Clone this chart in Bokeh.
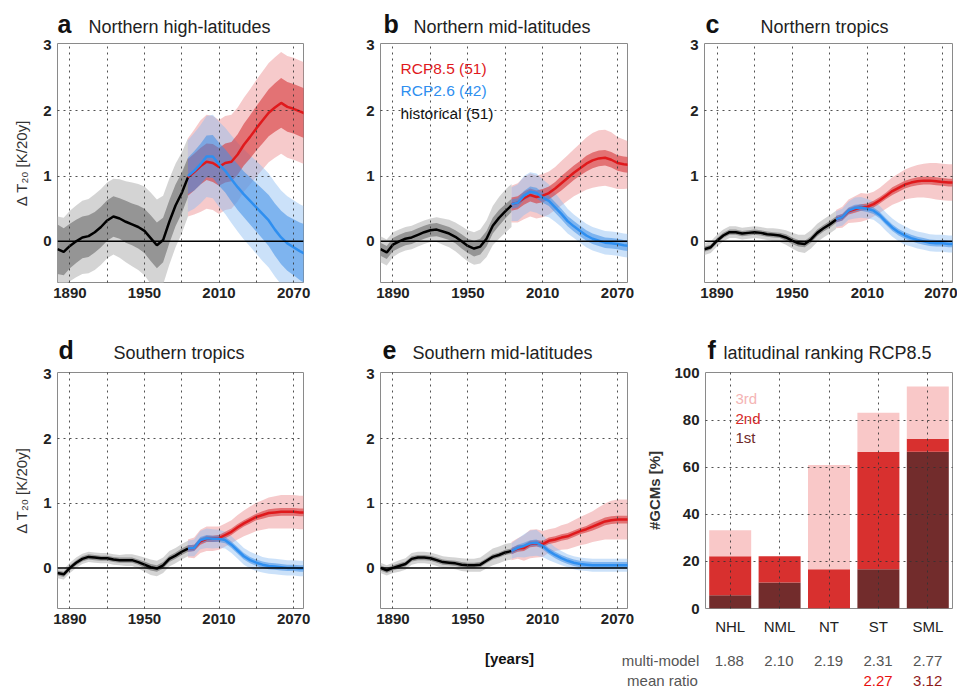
from bokeh.plotting import figure
from bokeh.layouts import row, column
from bokeh.models import Range1d, FactorRange, FixedTicker, Span, Label, ColumnDataSource
from bokeh.embed import file_html
from bokeh.resources import INLINE
from bokeh.core.properties import value

FONT = "Liberation Sans"

# ---------------- data ----------------
HIST_YEARS = [1880, 1885, 1890, 1895, 1900, 1905, 1910, 1915, 1920, 1925, 1930,
              1935, 1940, 1945, 1950, 1955, 1960, 1965, 1970, 1975, 1980, 1985]
SCEN_YEARS = [1985, 1990, 1995, 2000, 2005, 2010, 2015, 2020, 2025, 2030,
              2035, 2040, 2045, 2050, 2055, 2060, 2065, 2070, 2075, 2079]
X_TICKS = [1890, 1950, 2010, 2070]
X_GRID = [1890, 1920, 1950, 1980, 2010, 2040, 2070]

# a  Northern high-latitudes
A_HIST = [-0.12, -0.16, -0.07, 0.00, 0.06, 0.08, 0.14, 0.22, 0.32, 0.38, 0.35,
          0.30, 0.26, 0.22, 0.16, 0.05, -0.06, 0.02, 0.30, 0.55, 0.74, 0.98]
A_HIST_IN = [0.38, 0.36, 0.34, 0.33, 0.32, 0.32, 0.31, 0.31, 0.31, 0.31, 0.31,
             0.32, 0.32, 0.33, 0.34, 0.35, 0.35, 0.34, 0.33, 0.32, 0.31, 0.30]
A_HIST_OUT = [0.50, 0.52, 0.54, 0.55, 0.56, 0.57, 0.58, 0.58, 0.58, 0.58, 0.60,
              0.62, 0.64, 0.66, 0.68, 0.70, 0.70, 0.68, 0.66, 0.64, 0.62, 0.60]
A_85 = [0.98, 1.06, 1.15, 1.22, 1.20, 1.14, 1.20, 1.22, 1.33, 1.48,
        1.60, 1.73, 1.85, 1.97, 2.05, 2.12, 2.06, 2.03, 1.99, 1.96]
A_85_IN = [0.28, 0.28, 0.28, 0.28, 0.29, 0.29, 0.30, 0.30, 0.31, 0.32,
           0.33, 0.34, 0.35, 0.36, 0.37, 0.38, 0.38, 0.38, 0.38, 0.38]
A_85_OUT = [0.60, 0.65, 0.70, 0.72, 0.72, 0.72, 0.72, 0.72, 0.72, 0.72,
            0.73, 0.74, 0.75, 0.76, 0.77, 0.78, 0.78, 0.78, 0.78, 0.78]
A_26 = [1.00, 1.08, 1.18, 1.30, 1.30, 1.18, 1.08, 0.95, 0.83, 0.72,
        0.62, 0.52, 0.42, 0.32, 0.18, 0.06, -0.03, -0.09, -0.15, -0.19]
A_26_IN = [0.28, 0.30, 0.31, 0.32, 0.33, 0.33, 0.33, 0.34, 0.35, 0.35,
           0.36, 0.37, 0.38, 0.39, 0.40, 0.41, 0.42, 0.43, 0.44, 0.45]
A_26_OUT = [0.55, 0.58, 0.60, 0.62, 0.64, 0.65, 0.66, 0.67, 0.68, 0.69,
            0.70, 0.71, 0.72, 0.72, 0.72, 0.72, 0.72, 0.72, 0.72, 0.72]

# b  Northern mid-latitudes
B_HIST = [-0.12, -0.17, -0.05, 0.00, 0.04, 0.06, 0.10, 0.14, 0.17, 0.18, 0.15,
          0.12, 0.07, 0.00, -0.07, -0.11, -0.08, 0.04, 0.24, 0.36, 0.46, 0.55]
B_HIST_IN = [0.10, 0.10, 0.10, 0.10, 0.10, 0.10, 0.10, 0.10, 0.10, 0.10, 0.10,
             0.10, 0.10, 0.11, 0.11, 0.12, 0.12, 0.12, 0.12, 0.12, 0.11, 0.10]
B_HIST_OUT = [0.20, 0.20, 0.19, 0.18, 0.18, 0.18, 0.18, 0.18, 0.18, 0.19, 0.20,
              0.21, 0.22, 0.23, 0.24, 0.25, 0.26, 0.28, 0.30, 0.32, 0.33, 0.33]
B_85 = [0.57, 0.59, 0.66, 0.71, 0.68, 0.70, 0.74, 0.81, 0.89, 0.97,
        1.05, 1.12, 1.19, 1.24, 1.27, 1.28, 1.25, 1.20, 1.18, 1.17]
B_85_IN = [0.10, 0.10, 0.10, 0.10, 0.10, 0.10, 0.10, 0.10, 0.11, 0.11,
           0.11, 0.11, 0.12, 0.12, 0.12, 0.12, 0.12, 0.12, 0.12, 0.12]
B_85_OUT = [0.28, 0.30, 0.32, 0.33, 0.33, 0.33, 0.33, 0.33, 0.34, 0.35,
            0.36, 0.38, 0.40, 0.42, 0.43, 0.43, 0.42, 0.40, 0.38, 0.36]
B_26 = [0.57, 0.59, 0.70, 0.76, 0.74, 0.67, 0.62, 0.52, 0.42, 0.31,
        0.23, 0.16, 0.09, 0.04, 0.01, -0.02, -0.03, -0.04, -0.06, -0.07]
B_26_IN = [0.07, 0.07, 0.07, 0.08, 0.08, 0.08, 0.08, 0.08, 0.08, 0.08,
           0.08, 0.08, 0.08, 0.08, 0.08, 0.08, 0.08, 0.08, 0.08, 0.08]
B_26_OUT = [0.26, 0.28, 0.30, 0.30, 0.30, 0.28, 0.25, 0.22, 0.20, 0.19,
            0.18, 0.18, 0.18, 0.18, 0.18, 0.18, 0.18, 0.18, 0.18, 0.18]

# c  Northern tropics
C_HIST = [-0.12, -0.09, 0.01, 0.09, 0.14, 0.14, 0.12, 0.13, 0.14, 0.13, 0.11,
          0.10, 0.09, 0.06, 0.01, -0.03, -0.04, 0.03, 0.13, 0.20, 0.26, 0.33]
C_HIST_IN = [0.04, 0.04, 0.04, 0.04, 0.04, 0.04, 0.04, 0.04, 0.04, 0.04, 0.04,
             0.04, 0.04, 0.05, 0.05, 0.05, 0.05, 0.05, 0.05, 0.05, 0.05, 0.05]
C_HIST_OUT = [0.09, 0.09, 0.09, 0.09, 0.09, 0.09, 0.09, 0.09, 0.09, 0.09, 0.09,
              0.10, 0.10, 0.11, 0.12, 0.13, 0.14, 0.14, 0.14, 0.14, 0.14, 0.14]
C_85 = [0.34, 0.37, 0.46, 0.49, 0.52, 0.53, 0.57, 0.63, 0.70, 0.77,
        0.82, 0.87, 0.90, 0.92, 0.93, 0.93, 0.92, 0.91, 0.90, 0.90]
C_85_IN = [0.05, 0.05, 0.05, 0.05, 0.05, 0.05, 0.05, 0.05, 0.05, 0.06,
           0.06, 0.06, 0.06, 0.06, 0.06, 0.06, 0.06, 0.06, 0.06, 0.06]
C_85_OUT = [0.14, 0.16, 0.18, 0.20, 0.22, 0.20, 0.19, 0.19, 0.20, 0.21,
            0.22, 0.23, 0.24, 0.25, 0.26, 0.27, 0.28, 0.28, 0.28, 0.28]
C_26 = [0.34, 0.37, 0.47, 0.51, 0.52, 0.50, 0.47, 0.40, 0.30, 0.21,
        0.14, 0.09, 0.05, 0.02, 0.00, -0.02, -0.03, -0.03, -0.04, -0.04]
C_26_IN = [0.05, 0.05, 0.05, 0.05, 0.05, 0.05, 0.05, 0.05, 0.05, 0.05,
           0.05, 0.05, 0.05, 0.05, 0.05, 0.05, 0.05, 0.05, 0.05, 0.05]
C_26_OUT = [0.12, 0.13, 0.14, 0.16, 0.16, 0.15, 0.14, 0.14, 0.14, 0.14,
            0.14, 0.14, 0.13, 0.13, 0.13, 0.13, 0.13, 0.13, 0.13, 0.13]

# d  Southern tropics
D_HIST = [-0.08, -0.10, 0.00, 0.08, 0.14, 0.17, 0.16, 0.15, 0.15, 0.13, 0.12,
          0.12, 0.12, 0.09, 0.05, 0.01, -0.01, 0.04, 0.14, 0.19, 0.25, 0.30]
D_HIST_IN = [0.04, 0.04, 0.04, 0.04, 0.04, 0.04, 0.04, 0.04, 0.04, 0.04, 0.04,
             0.04, 0.04, 0.04, 0.05, 0.05, 0.05, 0.05, 0.05, 0.05, 0.05, 0.05]
D_HIST_OUT = [0.08, 0.08, 0.08, 0.08, 0.08, 0.08, 0.08, 0.08, 0.08, 0.08, 0.08,
              0.09, 0.09, 0.10, 0.11, 0.12, 0.12, 0.12, 0.12, 0.12, 0.12, 0.12]
D_85 = [0.30, 0.31, 0.41, 0.45, 0.45, 0.46, 0.51, 0.56, 0.63, 0.69,
        0.74, 0.79, 0.82, 0.85, 0.86, 0.87, 0.87, 0.87, 0.86, 0.86]
D_85_IN = [0.05, 0.05, 0.05, 0.05, 0.05, 0.05, 0.05, 0.05, 0.05, 0.05,
           0.05, 0.05, 0.06, 0.06, 0.06, 0.06, 0.06, 0.06, 0.06, 0.06]
D_85_OUT = [0.14, 0.16, 0.18, 0.19, 0.19, 0.18, 0.18, 0.18, 0.19, 0.20,
            0.21, 0.22, 0.23, 0.24, 0.25, 0.26, 0.26, 0.26, 0.26, 0.26]
D_26 = [0.30, 0.31, 0.43, 0.46, 0.45, 0.45, 0.43, 0.36, 0.27, 0.18,
        0.12, 0.08, 0.05, 0.03, 0.02, 0.01, 0.00, 0.00, -0.01, -0.01]
D_26_IN = [0.05, 0.05, 0.05, 0.05, 0.05, 0.05, 0.05, 0.05, 0.05, 0.05,
           0.05, 0.05, 0.05, 0.05, 0.05, 0.05, 0.05, 0.05, 0.05, 0.05]
D_26_OUT = [0.12, 0.13, 0.14, 0.15, 0.15, 0.14, 0.13, 0.13, 0.13, 0.13,
            0.13, 0.13, 0.12, 0.12, 0.12, 0.12, 0.12, 0.12, 0.12, 0.12]

# e  Southern mid-latitudes
E_HIST = [0.00, -0.04, 0.00, 0.03, 0.06, 0.14, 0.16, 0.16, 0.15, 0.12, 0.09,
          0.08, 0.07, 0.05, 0.04, 0.04, 0.05, 0.11, 0.17, 0.20, 0.24, 0.26]
E_HIST_IN = [0.04, 0.04, 0.04, 0.04, 0.04, 0.04, 0.04, 0.04, 0.04, 0.04, 0.04,
             0.04, 0.04, 0.04, 0.04, 0.04, 0.04, 0.04, 0.04, 0.04, 0.04, 0.04]
E_HIST_OUT = [0.08, 0.08, 0.08, 0.09, 0.09, 0.09, 0.09, 0.09, 0.09, 0.09, 0.09,
              0.09, 0.09, 0.10, 0.10, 0.10, 0.11, 0.12, 0.13, 0.13, 0.13, 0.13]
E_85 = [0.26, 0.30, 0.31, 0.37, 0.38, 0.37, 0.42, 0.44, 0.47, 0.49,
        0.53, 0.57, 0.60, 0.64, 0.68, 0.72, 0.74, 0.75, 0.75, 0.75]
E_85_IN = [0.05, 0.05, 0.05, 0.05, 0.05, 0.05, 0.05, 0.05, 0.05, 0.05,
           0.05, 0.05, 0.05, 0.06, 0.06, 0.06, 0.06, 0.06, 0.06, 0.06]
E_85_OUT = [0.14, 0.16, 0.20, 0.22, 0.22, 0.20, 0.18, 0.18, 0.19, 0.20,
            0.21, 0.22, 0.23, 0.24, 0.26, 0.28, 0.30, 0.31, 0.31, 0.31]
E_26 = [0.26, 0.31, 0.34, 0.38, 0.39, 0.34, 0.26, 0.20, 0.15, 0.11,
        0.08, 0.06, 0.05, 0.04, 0.04, 0.04, 0.04, 0.04, 0.04, 0.04]
E_26_IN = [0.05, 0.05, 0.05, 0.05, 0.05, 0.05, 0.05, 0.05, 0.05, 0.05,
           0.05, 0.05, 0.05, 0.05, 0.05, 0.05, 0.05, 0.05, 0.05, 0.05]
E_26_OUT = [0.12, 0.14, 0.18, 0.20, 0.20, 0.17, 0.14, 0.12, 0.11, 0.10,
            0.10, 0.10, 0.10, 0.10, 0.10, 0.10, 0.10, 0.10, 0.10, 0.10]

# f  latitudinal ranking RCP8.5 (% of GCMs)
REGIONS = ["NHL", "NML", "NT", "ST", "SML"]
RANK_1ST = [5.6, 11.1, 0.0, 16.7, 66.7]
RANK_2ND = [16.6, 11.1, 16.7, 50.0, 5.5]
RANK_3RD = [11.1, 0.0, 44.4, 16.6, 22.2]
MM_RATIO = [1.88, 2.10, 2.19, 2.31, 2.77]
ALT_REGIONS = ["ST", "SML"]
ALT_RATIO = [2.27, 3.12]

# ---------------- styling ----------------
RED = "#e0191c"
BLUE = "#2f8ff0"
C1ST, C2ND, C3RD = "#722c2c", "#d8302f", "#f9c8c8"
TXT = "#222222"
GRID = "#333333"

FR_H1, FR_H2 = 239, 238
TOP1, TOP2 = 6, 8


def base_fig(width, height, bl, br, bt, bb, x_range, y_range):
    p = figure(width=width, height=height, x_range=x_range, y_range=y_range,
               output_backend="svg", toolbar_location=None, title=None,
               min_border_left=bl, min_border_right=br,
               min_border_top=bt, min_border_bottom=bb,
               background_fill_color="white", border_fill_color="white")
    p.outline_line_color = "#8a8a8a"
    p.outline_line_width = 1
    for ax in (p.xaxis, p.yaxis):
        ax.axis_line_color = None
        ax.major_tick_line_color = None
        ax.minor_tick_line_color = None
        ax.major_tick_out = 0
        ax.major_tick_in = 0
        ax.minor_tick_out = 0
        ax.minor_tick_in = 0
        ax.major_label_text_font = FONT
        ax.major_label_text_font_size = "15px"
        ax.major_label_text_font_style = "bold"
        ax.major_label_text_color = TXT
    p.xaxis.major_label_standoff = 5
    p.yaxis.major_label_standoff = 6
    for g in (p.xgrid, p.ygrid):
        g.grid_line_color = GRID
        g.grid_line_dash = "2 4"
        g.grid_line_width = 1
        g.grid_line_alpha = 0.85
        g.level = "overlay"
    return p


def blank(width, height, x_range):
    s = figure(width=width, height=height, x_range=x_range, y_range=Range1d(0, height),
               output_backend="svg", toolbar_location=None, title=None,
               x_axis_type=None, y_axis_type=None,
               min_border_left=0, min_border_right=0, min_border_top=0, min_border_bottom=0)
    s.outline_line_color = None
    s.grid.visible = False
    return s


def strip(width, height, letter, text, x_letter, x_text, y_letter, y_text):
    s = blank(width, height, Range1d(0, width))
    s.add_layout(Label(x=x_letter, y=y_letter, text=letter, text_font=FONT,
                       text_font_size="25px", text_font_style="bold",
                       text_color="#111111", text_baseline="middle"))
    s.add_layout(Label(x=x_text, y=y_text, text=text, text_font=FONT,
                       text_font_size="18px", text_color="#222222",
                       text_baseline="middle"))
    return s


def band(p, xs, mean, spread, color, alpha):
    lo = [m - s for m, s in zip(mean, spread)]
    hi = [m + s for m, s in zip(mean, spread)]
    p.varea(x=xs, y1=lo, y2=hi, fill_color=color, fill_alpha=alpha)


def ts_panel(width, fr_h, bl, br, bt, bb,
             hist, h_in, h_out, r85, r85_in, r85_out, r26, r26_in, r26_out,
             ylabel=None):
    p = base_fig(width, bt + fr_h + bb, bl, br, bt, bb,
                 Range1d(1880, 2078), Range1d(-0.63, 3.03))
    p.xaxis.ticker = FixedTicker(ticks=X_TICKS)
    p.yaxis.ticker = FixedTicker(ticks=[0, 1, 2, 3])
    p.xgrid.ticker = FixedTicker(ticks=X_GRID)
    p.ygrid.ticker = FixedTicker(ticks=[1, 2])
    if ylabel:
        p.yaxis.axis_label = ylabel
        p.yaxis.axis_label_text_font = FONT
        p.yaxis.axis_label_text_font_size = "15px"
        p.yaxis.axis_label_text_font_style = "normal"
        p.yaxis.axis_label_text_color = "#333333"
        p.yaxis.axis_label_standoff = 10
    band(p, HIST_YEARS, hist, h_out, "#cfcfcf", 0.9)
    band(p, HIST_YEARS, hist, h_in, "#8a8a8a", 0.85)
    band(p, SCEN_YEARS, r85, r85_out, "#ea8a8c", 0.45)
    band(p, SCEN_YEARS, r26, r26_out, "#8cbcf2", 0.45)
    band(p, SCEN_YEARS, r85, r85_in, "#d7373a", 0.6)
    band(p, SCEN_YEARS, r26, r26_in, "#3f8fe8", 0.55)
    p.line(HIST_YEARS, hist, line_color="black", line_width=2.5)
    p.line(SCEN_YEARS, r85, line_color=RED, line_width=2.5)
    p.line(SCEN_YEARS, r26, line_color=BLUE, line_width=2.5)
    p.add_layout(Span(location=0, dimension="width", line_color="black", line_width=1.5))
    return p


# ---- row 1 ----
ta = strip(350, 37, "a", "Northern high-latitudes", 57, 88, 14, 11)
tb = strip(325, 37, "b", "Northern mid-latitudes", 33, 63, 14, 11)
tc = strip(282, 37, "c", "Northern tropics", 30, 85, 14, 11)

pa = ts_panel(350, FR_H1, 57, 47, TOP1, 30, A_HIST, A_HIST_IN, A_HIST_OUT, A_85, A_85_IN,
              A_85_OUT, A_26, A_26_IN, A_26_OUT, ylabel="Δ T₂₀ [K/20y]")
pb = ts_panel(325, FR_H1, 30, 48, TOP1, 30, B_HIST, B_HIST_IN, B_HIST_OUT, B_85, B_85_IN,
              B_85_OUT, B_26, B_26_IN, B_26_OUT)
pc = ts_panel(282, FR_H1, 29, 5, TOP1, 30, C_HIST, C_HIST_IN, C_HIST_OUT, C_85, C_85_IN,
              C_85_OUT, C_26, C_26_IN, C_26_OUT)

for txt, col, off in (("RCP8.5 (51)", RED, 25), ("RCP2.6 (42)", BLUE, 47),
                      ("historical (51)", "#111111", 70)):
    pb.add_layout(Label(x=20, y=FR_H1 - off, x_units="screen", y_units="screen",
                        text=txt, text_font=FONT, text_font_size="15.5px",
                        text_color=col, text_baseline="middle"))

# ---- row 2 ----
td = strip(350, 52, "d", "Southern tropics", 58, 113, 15, 12)
te = strip(293, 52, "e", "Southern mid-latitudes", 32, 62, 15, 12)
tf = strip(314, 52, "f", "latitudinal ranking RCP8.5", 64, 80, 15, 12)

BB2 = 27
pd_ = ts_panel(350, FR_H2, 57, 47, TOP2, BB2, D_HIST, D_HIST_IN, D_HIST_OUT, D_85, D_85_IN,
               D_85_OUT, D_26, D_26_IN, D_26_OUT, ylabel="Δ T₂₀ [K/20y]")
pe = ts_panel(293, FR_H2, 30, 16, TOP2, BB2, E_HIST, E_HIST_IN, E_HIST_OUT, E_85, E_85_IN,
              E_85_OUT, E_26, E_26_IN, E_26_OUT)

pf = base_fig(314, TOP2 + FR_H2 + BB2, 61, 5, TOP2, BB2,
              FactorRange(factors=REGIONS), Range1d(0, 100.4))
pf.yaxis.ticker = FixedTicker(ticks=[0, 20, 40, 60, 80, 100])
pf.ygrid.ticker = FixedTicker(ticks=[20, 40, 60, 80])
pf.xaxis.major_label_text_font_style = "normal"
pf.xaxis.major_label_standoff = 9
pf.yaxis.axis_label = "#GCMs [%]"
pf.yaxis.axis_label_text_font = FONT
pf.yaxis.axis_label_text_font_size = "15px"
pf.yaxis.axis_label_text_font_style = "bold"
pf.yaxis.axis_label_text_color = "#333333"
pf.yaxis.axis_label_standoff = 8
src = ColumnDataSource(dict(region=REGIONS, first=RANK_1ST, second=RANK_2ND, third=RANK_3RD))
pf.vbar_stack(["first", "second", "third"], x="region", width=0.85, source=src,
              fill_color=[C1ST, C2ND, C3RD], line_color=None)
for txt, col, off in (("3rd", "#f4b4b4", 28), ("2nd", "#d62a2a", 48), ("1st", "#6e2a2a", 67)):
    pf.add_layout(Label(x=30, y=FR_H2 - off, x_units="screen", y_units="screen",
                        text=txt, text_font=FONT, text_font_size="15px",
                        text_color=col, text_baseline="middle"))

# ---- row 3 : bottom annotations ----
pl = blank(704, 52, Range1d(0, 704))
pl.add_layout(Label(x=509, y=31, text="[years]", text_font=FONT, text_font_size="15px",
                    text_font_style="bold", text_color="#111111",
                    text_align="center", text_baseline="middle"))
pl.add_layout(Label(x=660, y=29, text="multi-model", text_font=FONT, text_font_size="15px",
                    text_color="#555555", text_align="center", text_baseline="middle"))
pl.add_layout(Label(x=662, y=9, text="mean ratio", text_font=FONT, text_font_size="15px",
                    text_color="#555555", text_align="center", text_baseline="middle"))

# right part shares the categorical x scale of panel f (same 248 px frame)
pr = figure(width=253, height=52, x_range=pf.x_range, y_range=Range1d(0, 52),
            output_backend="svg", toolbar_location=None, title=None,
            x_axis_type=None, y_axis_type=None,
            min_border_left=0, min_border_right=5, min_border_top=0, min_border_bottom=0)
pr.outline_line_color = None
pr.grid.visible = False
rsrc = ColumnDataSource(dict(region=REGIONS, txt=["%.2f" % v for v in MM_RATIO],
                             y=[29] * len(REGIONS)))
pr.text(x="region", y="y", text="txt", source=rsrc, text_font=value(FONT),
        text_font_size="15px", text_color="#555555", text_align="center",
        text_baseline="middle")
asrc = ColumnDataSource(dict(region=ALT_REGIONS, txt=["%.2f" % v for v in ALT_RATIO],
                             y=[9] * len(ALT_REGIONS), col=["#e81010", "#8e1a1a"]))
pr.text(x="region", y="y", text="txt", source=asrc, text_font=value(FONT),
        text_font_size="15px", text_color="col", text_align="center",
        text_baseline="middle")

layout = column(row(ta, tb, tc), row(pa, pb, pc),
                row(td, te, tf), row(pd_, pe, pf),
                row(pl, pr))
open("out.html", "w").write(file_html(layout, INLINE))
